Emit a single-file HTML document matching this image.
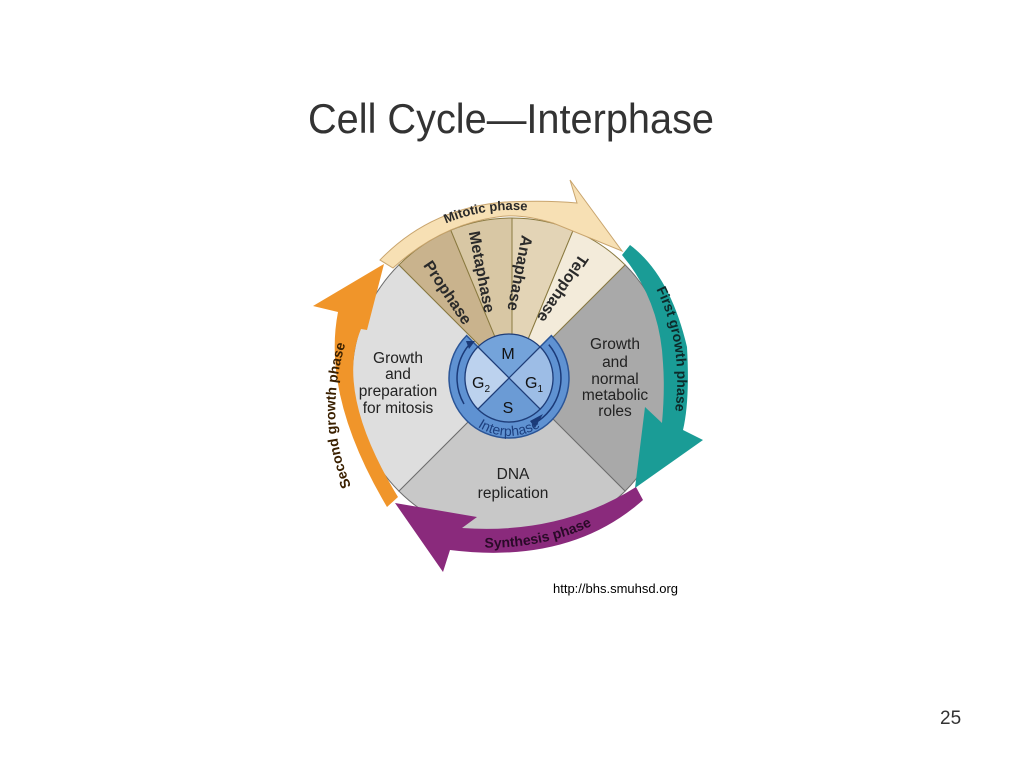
<!DOCTYPE html>
<html><head><meta charset="utf-8"><style>
html,body{margin:0;padding:0;background:#fff;}
svg{display:block;font-family:"Liberation Sans",Arial,sans-serif;}
</style></head><body>
<svg width="1024" height="768" viewBox="0 0 1024 768" xmlns="http://www.w3.org/2000/svg">
<text x="511" y="133" font-size="42" fill="#333" text-anchor="middle" textLength="406" lengthAdjust="spacingAndGlyphs">Cell Cycle—Interphase</text>

<!-- pie sectors -->
<g stroke="#6e6e6e" stroke-width="1">
<path d="M512,378 L625.1,264.9 A160,160 0 0 1 625.1,491.1 Z" fill="#a9a9a9"/>
<path d="M512,378 L625.1,491.1 A160,160 0 0 1 398.9,491.1 Z" fill="#c8c8c8"/>
<path d="M512,378 L398.9,491.1 A160,160 0 0 1 398.9,264.9 Z" fill="#dedede"/>
<path d="M512,378 L398.9,264.9 A160,160 0 0 1 450.8,230.2 Z" fill="#c9b38d" stroke="#8a7a40"/>
<path d="M512,378 L450.8,230.2 A160,160 0 0 1 512,218 Z" fill="#d8c7a4" stroke="#8a7a40"/>
<path d="M512,378 L512,218 A160,160 0 0 1 573.2,230.2 Z" fill="#e3d4b6" stroke="#8a7a40"/>
<path d="M512,378 L573.2,230.2 A160,160 0 0 1 625.1,264.9 Z" fill="#f3ebda" stroke="#8a7a40"/>
</g>

<!-- wedge labels -->
<g font-size="16" font-weight="bold" fill="#2a2a2a" text-anchor="middle" dominant-baseline="central">
<text transform="translate(447,293) rotate(56)">Prophase</text>
<text transform="translate(481,272) rotate(79)">Metaphase</text>
<text transform="translate(519,273) rotate(101)">Anaphase</text>
<text transform="translate(562,288) rotate(124)">Telophase</text>
</g>

<!-- sector labels -->
<g font-size="15.5" fill="#222" text-anchor="middle">
<text x="398" y="363">Growth</text>
<text x="398" y="379">and</text>
<text x="398" y="396">preparation</text>
<text x="398" y="413">for mitosis</text>
<text x="615" y="349">Growth</text>
<text x="615" y="367">and</text>
<text x="615" y="384">normal</text>
<text x="615" y="400">metabolic</text>
<text x="615" y="416">roles</text>
<text x="513" y="479">DNA</text>
<text x="513" y="498">replication</text>
</g>

<!-- mitotic arrow -->
<path d="M380,260 Q430,208 505,202 Q548,200 577,203 L570,180 L622,251 L553,223 Q520,213 497,217 Q440,225 393,268 Z" fill="#f7e0b4" stroke="#c9a56e" stroke-width="1"/>
<defs><path id="mp" d="M408.6,245.6 A168,168 0 0 1 569.5,220.1"/>
<path id="ip" d="M458.8,407 A58,58 0 0 0 559.2,407"/>
<path id="fg" d="M653,283 Q686,345 674,418"/>
<path id="sg" d="M352,488 Q322,420 346,342"/>
<path id="sp" d="M470,547 Q545,552 605,519"/>
</defs>
<text font-size="13" font-weight="bold" fill="#2a2a2a"><textPath href="#mp" startOffset="50%" text-anchor="middle">Mitotic phase</textPath></text>

<!-- teal arrow -->
<path d="M622,255 L630,245 Q670,275 687,347 Q690,400 683,430 L703,440 L635,488 L645,407 L662,423 Q665,390 663,363 Q660,300 622,255 Z" fill="#1a9c96"/>
<text font-size="14" font-weight="bold" fill="#0d2a2a"><textPath href="#fg" startOffset="50%" text-anchor="middle">First growth phase</textPath></text>

<!-- purple arrow -->
<path d="M395,503 L477,517 L462,528 Q560,535 636,487 L643,500 Q570,565 450,550 L443,572 Z" fill="#8a2a7c"/>
<text font-size="14" font-weight="bold" fill="#2a0a28"><textPath href="#sp" startOffset="50%" text-anchor="middle">Synthesis phase</textPath></text>

<!-- orange arrow -->
<path d="M387,507 Q321.5,396.5 338,312 L313,306 L384,264 L367,330 L361,329 Q334.5,393 398,497 Z" fill="#f0952a"/>
<text font-size="14" font-weight="bold" fill="#3a2000"><textPath href="#sg" startOffset="50%" text-anchor="middle">Second growth phase</textPath></text>

<!-- inner interphase disc -->
<path d="M551.4,335.6 A60,60 0 1 1 466.6,335.6 L477.9,346.9 A44,44 0 1 0 540.1,346.9 Z" fill="#5f92d2" stroke="#2b5597" stroke-width="1.5"/>
<g stroke="#1f3d78" stroke-width="1.2">
<path d="M509,378 L477.9,346.9 A44,44 0 0 1 540.1,346.9 Z" fill="#74a3da"/>
<path d="M509,378 L540.1,346.9 A44,44 0 0 1 540.1,409.1 Z" fill="#9dbde6"/>
<path d="M509,378 L540.1,409.1 A44,44 0 0 1 477.9,409.1 Z" fill="#6b9bd5"/>
<path d="M509,378 L477.9,409.1 A44,44 0 0 1 477.9,346.9 Z" fill="#bcd2ee"/>
</g>
<g fill="none" stroke="#1b3a78" stroke-width="1.5">
<path d="M548.8,344.6 A52,52 0 0 1 538.8,420.6"/>
<path d="M464,404 A52,52 0 0 1 469.2,344.6"/>
</g>
<path d="M535,428 L543,414 L530,421 Z" fill="#1b3a78"/>
<path d="M466,341 L475,341 L469,349 Z" fill="#1b3a78"/>
<g font-size="16" fill="#111" text-anchor="middle">
<text x="508" y="359">M</text>
<text x="481" y="388">G<tspan font-size="10" dy="4">2</tspan></text>
<text x="534" y="388">G<tspan font-size="10" dy="4">1</tspan></text>
<text x="508" y="413">S</text>
</g>
<text font-size="14" fill="#1d3f7e"><textPath href="#ip" startOffset="50%" text-anchor="middle">Interphase</textPath></text>

<text x="553" y="593" font-size="13" fill="#000">http://bhs.smuhsd.org</text>
<text x="940" y="724" font-size="19" fill="#333">25</text>
</svg>
</body></html>
